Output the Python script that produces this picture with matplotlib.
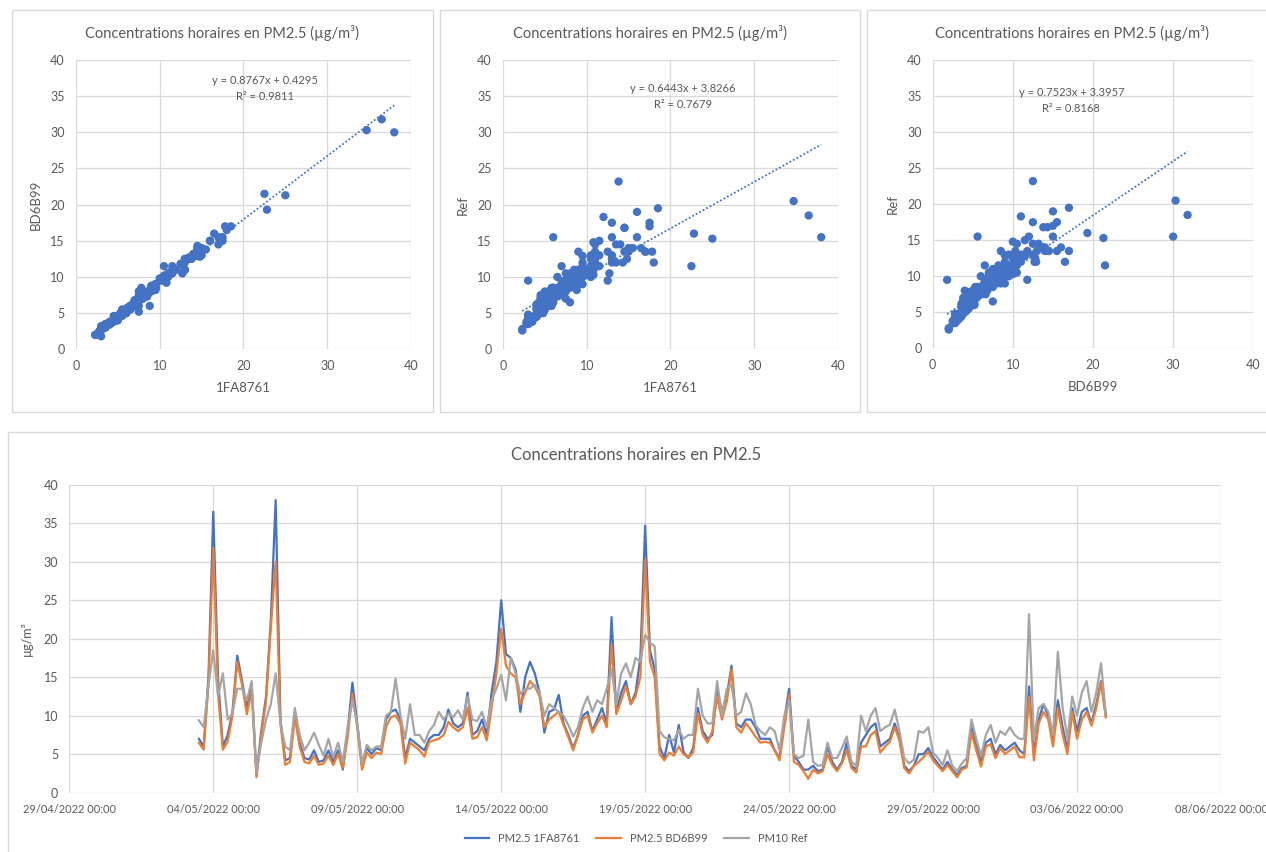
import numpy as np
import pandas as pd
import matplotlib
matplotlib.use("Agg")
import matplotlib.pyplot as plt
import matplotlib.dates as mdates
from matplotlib.patches import Rectangle

plt.rcParams['font.family'] = ['Lato', 'DejaVu Sans']

# hourly PM2.5 readings, sampled every 4 hours from 03/05/2022 12:00
start = "2022-05-03 12:00"
pm_1fa8761 = [
    7.0, 6.0, 15.0, 36.5, 14.8, 6.0, 7.5, 10.5, 17.8, 14.5, 11.0, 14.0, 2.3, 8.0, 12.5, 22.5,
    38.0, 9.5, 4.2, 4.5, 10.5, 6.5, 4.5, 4.3, 5.5, 4.0, 4.2, 5.5, 4.0, 5.5, 3.0, 8.0,
    14.3, 9.0, 3.5, 5.8, 5.0, 5.8, 5.5, 9.5, 10.5, 10.8, 9.5, 4.5, 7.0, 6.5, 6.0, 5.5,
    7.0, 7.5, 7.5, 8.5, 10.8, 9.0, 8.5, 9.0, 13.0, 7.5, 8.0, 9.5, 7.5, 13.0, 17.0, 25.0,
    18.0, 17.5, 16.0, 10.5, 15.0, 17.0, 15.5, 13.0, 7.8, 10.5, 10.8, 12.7, 9.0, 7.5, 5.8, 7.5,
    10.0, 10.5, 8.0, 9.5, 11.0, 9.0, 22.8, 10.5, 13.0, 14.5, 11.5, 13.0, 17.5, 34.7, 18.5, 16.0,
    6.0, 4.5, 7.5, 5.2, 8.8, 5.3, 4.5, 5.8, 11.0, 8.0, 7.0, 7.5, 13.5, 10.5, 12.5, 16.5,
    9.0, 8.5, 9.5, 9.5, 8.5, 7.0, 7.0, 7.0, 5.5, 4.5, 9.5, 13.5, 4.8, 4.0, 3.0, 3.0,
    3.5, 2.8, 3.0, 6.0, 4.0, 3.0, 4.0, 6.5, 3.5, 3.0, 6.5, 7.5, 8.5, 9.0, 6.0, 6.5,
    7.0, 9.0, 7.0, 3.5, 2.8, 3.5, 5.0, 5.0, 5.8, 4.6, 3.8, 3.0, 4.0, 3.0, 2.3, 3.2,
    3.5, 8.5, 6.0, 4.0, 6.5, 7.0, 5.0, 6.2, 5.5, 6.0, 6.5, 5.5, 5.0, 13.8, 5.0, 9.5,
    11.5, 10.0, 7.0, 12.0, 8.5, 5.5, 11.0, 8.0, 10.5, 11.0, 9.0, 11.5, 14.5, 10.0,
]
pm_bd6b99 = [
    6.5, 5.6, 14.0, 31.8, 12.8, 5.6, 6.6, 10.0, 17.0, 14.0, 10.2, 13.2, 2.0, 7.5, 11.8, 21.5,
    30.0, 9.0, 3.6, 4.0, 9.8, 6.0, 4.0, 3.8, 4.8, 3.6, 3.8, 4.8, 3.6, 5.0, 3.2, 7.2,
    12.9, 8.5, 3.0, 5.2, 4.5, 5.2, 5.0, 8.5, 9.8, 10.0, 9.0, 3.8, 6.5, 6.0, 5.5, 4.7,
    6.6, 6.8, 7.0, 7.5, 9.2, 8.5, 8.0, 8.5, 11.0, 7.0, 7.2, 8.5, 6.8, 11.0, 15.5, 21.3,
    16.5, 15.5, 15.0, 11.5, 13.0, 14.5, 13.8, 12.5, 8.5, 9.5, 10.0, 10.5, 8.8, 7.2, 5.5, 7.5,
    9.5, 10.0, 7.8, 9.0, 10.0, 8.5, 19.3, 10.2, 12.0, 13.8, 11.5, 12.5, 15.0, 30.3, 17.0, 15.0,
    5.0, 4.2, 5.2, 4.8, 6.0, 5.0, 4.6, 5.2, 10.3, 7.5, 6.5, 8.0, 12.5, 9.5, 11.8, 16.0,
    8.5, 7.8, 9.0, 8.2, 7.3, 6.5, 6.6, 6.5, 5.5, 4.2, 8.5, 12.7, 4.0, 3.6, 2.8, 1.8,
    3.0, 2.5, 2.8, 5.0, 3.6, 2.8, 3.8, 5.5, 3.2, 2.6, 6.0, 6.0, 7.5, 8.0, 5.2, 6.0,
    6.6, 8.5, 6.8, 3.2, 2.5, 3.5, 4.0, 4.6, 5.3, 4.2, 3.5, 2.8, 3.6, 2.8, 2.0, 3.0,
    3.3, 7.8, 5.5, 3.4, 6.0, 6.3, 4.5, 5.8, 5.0, 5.5, 6.0, 4.6, 4.6, 12.5, 4.2, 9.0,
    10.5, 9.5, 6.0, 11.0, 7.5, 5.0, 10.5, 7.0, 9.5, 10.5, 8.7, 11.0, 14.3, 9.8,
]
pm10_ref = [
    9.4, 8.5, 14.0, 18.5, 12.5, 15.5, 9.5, 10.3, 13.5, 13.5, 12.0, 14.5, 2.6, 6.5, 9.5, 11.5,
    15.5, 9.0, 6.0, 5.5, 11.0, 7.5, 5.5, 6.5, 7.8, 6.2, 4.8, 7.0, 4.6, 6.5, 4.0, 8.5,
    12.0, 9.0, 3.8, 6.2, 5.5, 6.0, 6.0, 10.0, 10.5, 14.8, 10.0, 7.0, 11.5, 7.5, 7.5, 6.5,
    8.0, 8.8, 10.5, 9.5, 10.3, 9.8, 10.7, 9.5, 12.5, 9.5, 9.3, 10.5, 8.5, 12.0, 13.5, 15.3,
    12.0, 17.5, 15.5, 12.8, 13.5, 13.5, 14.0, 13.0, 10.0, 11.5, 11.0, 10.5, 10.0, 8.8, 7.3, 8.5,
    11.0, 12.5, 10.5, 12.0, 11.5, 13.5, 16.0, 11.5, 15.5, 16.8, 15.0, 17.5, 17.0, 20.5, 19.5, 19.0,
    8.0, 7.2, 7.0, 6.8, 8.2, 7.0, 7.5, 7.5, 13.5, 10.0, 9.0, 9.0, 14.5, 10.0, 13.5, 14.0,
    10.0, 10.5, 12.9, 11.5, 8.8, 8.0, 7.5, 8.5, 8.0, 5.5, 10.0, 12.0, 5.0, 4.5, 4.8, 9.5,
    4.0, 3.5, 3.6, 6.5, 4.5, 4.5, 5.8, 7.3, 4.0, 3.5, 10.0, 8.0, 10.0, 11.0, 8.0, 8.5,
    8.8, 10.8, 8.0, 4.5, 3.8, 4.3, 8.0, 7.8, 8.5, 5.2, 4.5, 3.6, 5.5, 3.5, 2.8, 3.8,
    4.5, 9.5, 7.0, 4.8, 7.5, 8.8, 6.5, 8.0, 7.5, 8.5, 7.5, 7.0, 7.0, 23.2, 7.0, 11.0,
    11.5, 10.5, 7.5, 18.3, 11.0, 7.0, 12.5, 10.0, 13.0, 14.5, 10.5, 13.0, 16.8, 10.3,
]
times = pd.date_range(start, periods=len(pm_1fa8761), freq="4h")

# trendline coefficients shown on the scatter charts
fits = [(0.8767, 0.4295, 0.9811), (0.6443, 3.8266, 0.7679), (0.7523, 3.3957, 0.8168)]

BLUE = "#4472C4"
ORANGE = "#ED7D31"
GREY = "#A5A5A5"
TXT = "#595959"
GRID = "#D9D9D9"

W, H = 1266, 852
fig = plt.figure(figsize=(W / 100, H / 100), dpi=100, facecolor="white")


def px(x0, y0, x1, y1):
    return [x0 / W, 1 - y1 / H, (x1 - x0) / W, (y1 - y0) / H]


# chart borders
for (x0, y0, x1, y1) in [(12, 10, 433, 412), (440, 10, 860, 412), (867, 10, 1275, 412), (8, 432, 1275, 860)]:
    fig.add_artist(Rectangle((x0 / W, 1 - y1 / H), (x1 - x0) / W, (y1 - y0) / H,
                             transform=fig.transFigure, fill=False, edgecolor=GRID, lw=1))

title = "Concentrations horaires en PM2.5 (\u00b5g/m\u00b3)"
panels = [
    (px(76, 60, 411, 349.3), pm_1fa8761, pm_bd6b99, "1FA8761", "BD6B99", 222, (22.6, 37.2)),
    (px(503, 60, 838, 349.3), pm_1fa8761, pm10_ref, "1FA8761", "Ref", 650, (21.5, 36.1)),
    (px(932.7, 60, 1253.3, 348.3), pm_bd6b99, pm10_ref, "BD6B99", "Ref", 1072, (17.3, 35.5)),
]

for (rect, xs, ys, xl, yl, tx, eqpos), (a, b, r2) in zip(panels, fits):
    ax = fig.add_axes(rect)
    xs = np.array(xs)
    ys = np.array(ys)
    ax.scatter(xs, ys, s=36, color=BLUE, edgecolors="none", zorder=3)
    xx = np.array([xs.min(), xs.max()])
    ax.plot(xx, a * xx + b, ls=(0, (1, 1.2)), color=BLUE, lw=1.3, zorder=4)
    ax.text(eqpos[0], eqpos[1], f"y = {a:.4f}x + {b:.4f}", ha="center", va="center",
            fontsize=8, color=TXT)
    ax.text(eqpos[0], eqpos[1] - 2.2, f"R\u00b2 = {r2:.4f}", ha="center", va="center",
            fontsize=8, color=TXT)
    ax.set_xlim(0, 40)
    ax.set_ylim(0, 40)
    ax.set_xticks(range(0, 41, 10))
    ax.set_yticks(range(0, 41, 5))
    ax.grid(color=GRID, lw=0.9)
    ax.set_axisbelow(True)
    for s in ax.spines.values():
        s.set_visible(False)
    ax.tick_params(length=0, labelsize=9, labelcolor=TXT, pad=8)
    ax.set_xlabel(xl, fontsize=9.5, color=TXT, labelpad=7)
    ax.set_ylabel(yl, fontsize=9.5, color=TXT, labelpad=6)
    fig.text(tx / W, 1 - 33 / H, title, ha="center", va="center", fontsize=10.5, color=TXT)

# time series
ax = fig.add_axes(px(69.3, 484.7, 1221, 792.7))
ax.plot(times, pm_1fa8761, color=BLUE, lw=1.6, label="PM2.5 1FA8761", zorder=3)
ax.plot(times, pm_bd6b99, color=ORANGE, lw=1.6, label="PM2.5 BD6B99", zorder=4)
ax.plot(times, pm10_ref, color=GREY, lw=1.6, label="PM10 Ref", zorder=5)
ax.set_xlim(pd.Timestamp("2022-04-29"), pd.Timestamp("2022-06-08"))
ax.set_ylim(0, 40)
ax.set_yticks(range(0, 41, 5))
ax.set_xticks(pd.date_range("2022-04-29", "2022-06-08", freq="5D"))
ax.xaxis.set_major_formatter(mdates.DateFormatter("%d/%m/%Y %H:%M"))
ax.grid(color=GRID, lw=0.9)
ax.set_axisbelow(True)
for s in ax.spines.values():
    s.set_visible(False)
ax.tick_params(axis="y", length=0, labelsize=9, labelcolor=TXT, pad=8)
ax.tick_params(axis="x", length=0, labelsize=7.9, labelcolor=TXT, pad=8)
ax.set_ylabel("\u00b5g/m\u00b3", fontsize=9, color=TXT, labelpad=8)
fig.text(636 / W, 1 - 455 / H, "Concentrations horaires en PM2.5", ha="center", va="center",
         fontsize=12, color=TXT)
leg = fig.legend(loc="center", bbox_to_anchor=(636 / W, 1 - 838 / H), ncol=3, frameon=False,
                 fontsize=8, handlelength=2.2, columnspacing=1.5)
for t in leg.get_texts():
    t.set_color(TXT)

fig.savefig("out.png", dpi=100, facecolor="white")
